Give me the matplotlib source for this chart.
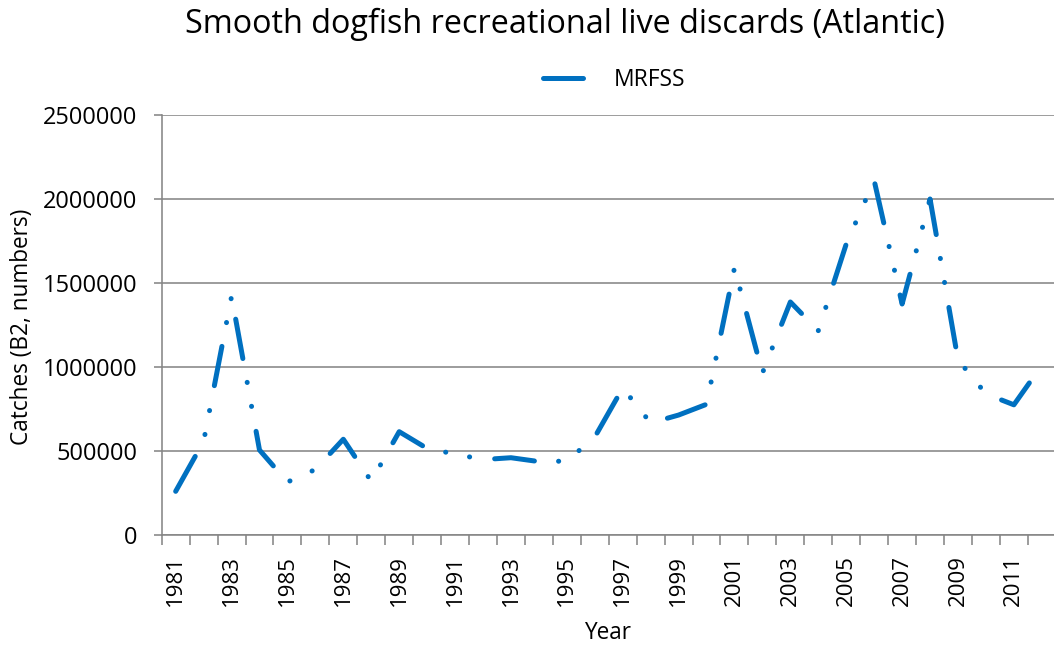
import numpy as np
import matplotlib
matplotlib.use('Agg')
import matplotlib.pyplot as plt

years = list(range(1981, 2013))
catches = [
    260000, 557000, 1420000, 506000, 315000, 390000, 570000, 320000,
    615000, 515000, 482000, 449000, 460000, 437000, 440000, 583000,
    875000, 667000, 714000, 778000, 1590000, 964000, 1387000, 1216000,
    1732000, 2110000, 1375000, 2000000, 1043000, 840000, 775000, 1010000,
]
tick_years = [str(y) for y in years[::2]]
y_ticks = [0, 500000, 1000000, 1500000, 2000000, 2500000]

plt.rcParams['font.family'] = ['Open Sans', 'DejaVu Sans']
plt.rcParams['lines.scale_dashes'] = False

BLUE = '#0070C0'
GREY = '#868686'
W, H = 1054, 649

fig = plt.figure(figsize=(W / 100, H / 100), dpi=100)
# plot area in pixels: left 161.7, bottom axis at 535, top at 115, 27.94 px per year
ax = fig.add_axes([161.7 / W, (H - 535) / H, 32 * 27.94 / W, 420 / H])

x = np.arange(len(years))
px = 100 / 72  # pixels per point
line, = ax.plot(x, catches, color=BLUE, lw=5 / px, label='MRFSS',
                solid_capstyle='round', dash_capstyle='round')
# long dash - dot - dot, lengths in pixels
line.set_dashes((40.0 / px, 24.2 / px, 0.1, 24.2 / px, 0.1, 25.3 / px))

ax.set_xlim(-0.5, len(years) - 0.5)
ax.set_ylim(0, 2500000)
ax.set_yticks(y_ticks)
ax.set_yticklabels([str(v) for v in y_ticks])
ax.yaxis.grid(True, color=GREY, lw=1.6 / px)
ax.set_axisbelow(True)

ax.set_xticks(x[::2])
ax.set_xticklabels(tick_years, rotation=90)
ax.set_xticks(np.arange(-0.5, len(years), 1), minor=True)
ax.tick_params(axis='x', which='major', length=0, pad=20 / px, labelsize=16)
ax.tick_params(axis='x', which='minor', length=10 / px, width=1.6 / px, color=GREY)
ax.tick_params(axis='y', length=8 / px, width=1.6 / px, color=GREY,
               pad=16 / px, labelsize=17)

for s in ['top', 'right']:
    ax.spines[s].set_visible(False)
for s in ['left', 'bottom']:
    ax.spines[s].set_color(GREY)
    ax.spines[s].set_linewidth(1.6 / px)

fig.text(565 / W, 1 - 24 / H, 'Smooth dogfish recreational live discards (Atlantic)',
         ha='center', va='center', fontsize=23.3)
fig.text(22 / W, 1 - 327 / H, 'Catches (B2, numbers)', rotation=90,
         ha='center', va='center', fontsize=16.3)
fig.text(608 / W, 1 - 633 / H, 'Year', ha='center', va='center', fontsize=16.3)

fig.legend(handles=[line], loc='center', bbox_to_anchor=(614 / W, 1 - 80 / H),
           frameon=False, fontsize=16.5, handlelength=1.85, handletextpad=1.25)

fig.savefig('out.png', dpi=100)
